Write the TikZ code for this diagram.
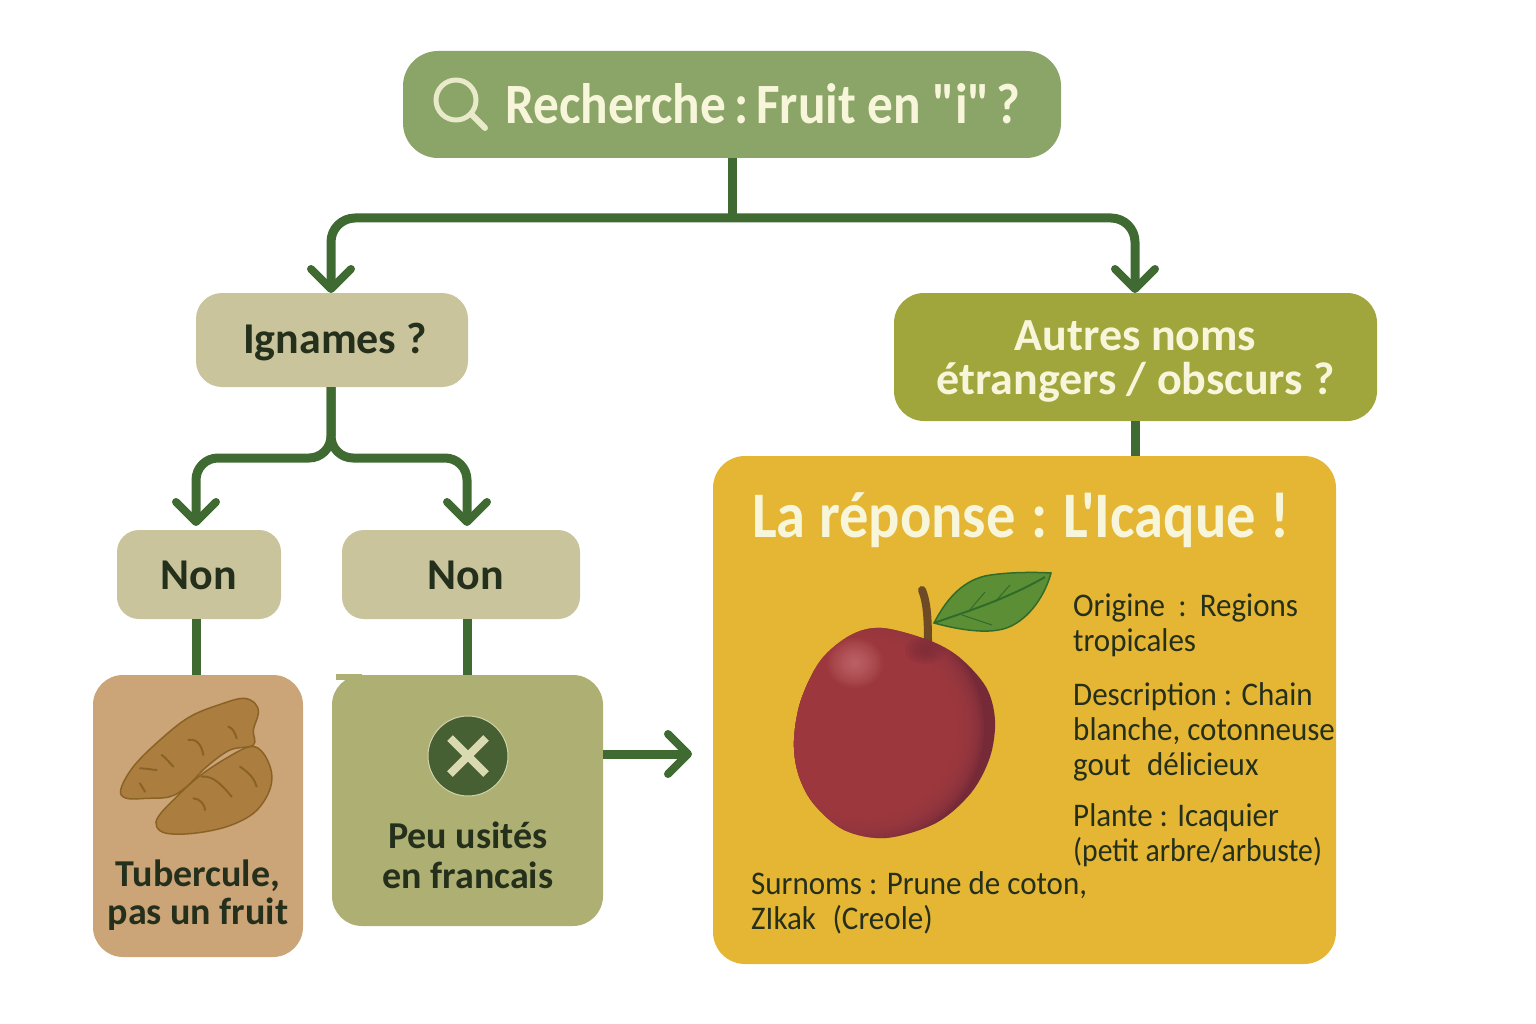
\documentclass[tikz,border=0pt]{standalone}
\usepackage{fontspec}
\setmainfont{Carlito}
\newfontfamily\headfont[FakeStretch=0.90]{Carlito}
\newfontfamily\bodyfont[FakeStretch=0.94]{Carlito}
\newfontfamily\bodytight[FakeStretch=0.90]{Carlito}
\usepackage{tikz}
\usetikzlibrary{arrows.meta}
\definecolor{TitleGreen}{HTML}{8BA568}
\definecolor{SandBox}{HTML}{C9C49B}
\definecolor{OliveBox}{HTML}{A0A53C}
\definecolor{TuberBox}{HTML}{CBA477}
\definecolor{MossBox}{HTML}{AEAF72}
\definecolor{GoldBox}{HTML}{E5B534}
\definecolor{LinkGreen}{HTML}{3F6B32}
\definecolor{DarkInk}{HTML}{25301C}
\definecolor{PaleCream}{HTML}{F8F6DA}
\definecolor{YamBody}{HTML}{AB7E40}
\definecolor{YamEdge}{HTML}{8A6226}
\definecolor{FruitMain}{HTML}{A03C42}
\definecolor{FruitDark}{HTML}{762A38}
\definecolor{LeafMain}{HTML}{5C8F35}
\definecolor{LeafEdge}{HTML}{2F6B2A}
\definecolor{StemBrown}{HTML}{6E4A25}
\tikzset{
	box/.style={rectangle, inner sep=0pt, align=center},
	link/.style={draw=LinkGreen, line width=9pt},
	tip/.style={link, -{Straight Barb[length=20pt,width=40pt,line width=8pt,round]}},
	headtext/.style={font=\headfont\bfseries\fontsize{57}{57}\selectfont, text=PaleCream},
	darktext/.style={font=\bfseries\fontsize{44}{44}\selectfont, text=DarkInk},
	labeltext/.style={font=\bfseries\fontsize{38}{38}\selectfont, text=DarkInk, inner sep=0pt, anchor=base, align=center},
	smalltext/.style={font=\bodyfont\fontsize{33}{35}\selectfont, text=DarkInk, anchor=base west, align=left, inner sep=0pt},
}
\newcommand{\yamMark}[1]{\draw [YamEdge, line width=2pt, line cap=round] #1;}
\begin{document}
\begin{tikzpicture}[x=1pt,y=-1pt]
	\useasboundingbox (0,0) rectangle (1536,1024);

	\coordinate (bus) at (732,218);
	\coordinate (colA) at (196,0);
	\coordinate (colB) at (467,0);
	\coordinate (split) at (331,458);
	\coordinate (tipL) at (331,293);
	\coordinate (tipR) at (1135,293);
	\coordinate (tipA) at (196,526);
	\coordinate (tipB) at (467,526);
	\coordinate (tipAnswer) at (692,754);

	\node [box, fill=TitleGreen, rounded corners=35pt, minimum width=658pt, minimum height=107pt, headtext, text height=38pt, text depth=0pt] (search) at (732,104.5) {\hspace{62pt}Recherche\hspace{.14em}:\hspace{.14em}Fruit en "i"\hspace{.12em}?};
	\node [box, fill=SandBox, rounded corners=26pt, minimum width=272pt, minimum height=94pt, darktext, text height=30pt, text depth=4pt] (ignames) at (332,340) {\hspace{6pt}Ignames ?};
	\node [box, fill=OliveBox, rounded corners=30pt, minimum width=483pt, minimum height=128pt, font=\bfseries\fontsize{46}{44}\selectfont, text=PaleCream] (autres) at (1135.5,357) {\rule{0pt}{38pt}Autres noms\\étrangers / obscurs ?};
	\node [box, fill=SandBox, rounded corners=22pt, minimum width=164pt, minimum height=89pt, darktext, text height=29pt, text depth=0pt] (nonA) at (199,574.5) {Non};
	\node [box, fill=SandBox, rounded corners=22pt, minimum width=238pt, minimum height=89pt, darktext, text height=29pt, text depth=0pt] (nonB) at (461,574.5) {\hspace{10pt}Non};
	\node [box, fill=TuberBox, rounded corners=30pt, minimum width=210pt, minimum height=282pt] (tuber) at (198,816) {};
	\node [box, fill=MossBox, rounded corners=30pt, minimum width=271pt, minimum height=251pt] (peu) at (467.5,800.5) {};
	\node [box, fill=GoldBox, rounded corners=32pt, minimum width=623pt, minimum height=508pt] (answer) at (1024.5,710) {};
	\fill [MossBox] (336,674) rectangle (362,680);

	\draw [link] (search.south) -- (bus);
	\draw [tip, rounded corners=24pt] (bus) -| (tipL);
	\draw [tip, rounded corners=24pt] (bus) -| (tipR);
	\draw [tip, rounded corners=22pt] (ignames.south -| split) -- (split) -| (tipA);
	\draw [tip, rounded corners=22pt] (ignames.south -| split) -- (split) -| (tipB);
	\draw [link] (nonA.south -| colA) -- (tuber.north -| colA);
	\draw [link] (nonB.south -| colB) -- (peu.north -| colB);
	\draw [link] (autres.south) -- (answer.north -| autres.south);
	\draw [tip] (peu.east |- tipAnswer) -- (tipAnswer);

	% loupe
	\draw [line width=5pt, color=PaleCream!85!TitleGreen] (456,100) circle (20pt);
	\draw [line width=6pt, line cap=round, color=PaleCream!85!TitleGreen] (471,114) -- (485,128);

	% yams
	\begin{scope}[shift={(90,670)},scale=1/3]
		\draw [fill=YamBody, draw=YamEdge, line width=1.5pt] plot [smooth cycle, tension=0.6] coordinates {(92,360) (130,290) (210,210) (300,140) (400,100) (460,85) (495,100) (505,130) (490,180) (490,225) (420,240) (350,290) (290,350) (240,380) (170,385) (110,385)};
		\draw [fill=YamBody, draw=YamEdge, line width=1.5pt] plot [smooth cycle, tension=0.6] coordinates {(200,470) (205,440) (250,390) (320,325) (400,270) (480,230) (520,250) (545,310) (535,370) (490,430) (410,470) (310,490) (230,490)};
		\yamMark{(295,210) .. controls (320,205) and (335,225) .. (340,255)}
		\yamMark{(415,170) .. controls (430,175) and (435,190) .. (440,205)}
		\yamMark{(215,255) .. controls (230,265) and (240,280) .. (250,290)}
		\yamMark{(150,295) .. controls (170,295) and (190,300) .. (200,300)}
		\yamMark{(335,320) .. controls (370,315) and (400,350) .. (425,380)}
		\yamMark{(310,385) .. controls (330,385) and (345,405) .. (345,420)}
		\yamMark{(450,290) .. controls (480,310) and (495,330) .. (500,350)}
		\yamMark{(150,340) -- (165,365)}
	\end{scope}

	% cross
	\node [circle, fill=black!30!LinkGreen!80!MossBox, draw=PaleCream!50!MossBox, line width=1pt, minimum size=80pt, inner sep=0pt] (noSign) at (468,756) {};
	\draw [color=PaleCream!60!MossBox, line width=8pt] (450,738) -- (486,774);
	\draw [color=PaleCream!60!MossBox, line width=8pt] (450,774) -- (486,738);

	% fruit
	\draw [color=StemBrown, line width=8pt, line cap=round] (922,590) .. controls (926,600) and (928,612) .. (928,642);
	\draw [fill=LeafMain, draw=LeafEdge, line width=1.5pt] (934,623) .. controls (945,602) and (960,582) .. (985,576) .. controls (1005,572) and (1035,572) .. (1051,573) .. controls (1045,595) and (1030,618) .. (1009,627) .. controls (990,635) and (960,630) .. (934,623) -- cycle;
	\draw [color=LeafEdge, line width=2pt] (934,623) .. controls (965,612) and (1005,600) .. (1045,577);
	\draw [color=LeafEdge, line width=1pt] (968,612) -- (985,592);
	\draw [color=LeafEdge, line width=1pt] (995,602) -- (1010,585);
	\draw [color=LeafEdge, line width=1pt] (962,615) -- (992,625);
	\def\fruitShape{plot [smooth cycle, tension=0.55] coordinates {(882,628) (928,640) (959,657) (986,687) (995,720) (990,757) (971,793) (936,823) (886,838) (844,830) (813,803) (798,773) (794,740) (801,700) (821,660) (851,635)}}
	\fill [FruitDark] \fruitShape;
	\begin{scope}
		\clip \fruitShape;
		\foreach \ring in {0,...,19} {
			\fill [FruitMain, opacity=0.17] (866,728) ellipse ({118-2*\ring} and {116-2*\ring});
		}
		\foreach \ring in {0,...,9} {
			\fill [red!30!white!60!FruitMain, opacity=0.08] (855,663) ellipse ({28-2.7*\ring} and {25-2.4*\ring});
		}
		\foreach \ring in {0,...,4} {
			\fill [FruitDark, opacity=0.16] (925,650) ellipse ({20-3.5*\ring} and {14-2.4*\ring});
		}
	\end{scope}

	% texts
	\node [labeltext] (tuberText) at (198,924) {Tubercule,\\pas un fruit};
	\node [labeltext, font=\bfseries\fontsize{38}{40}\selectfont] (peuText) at (468,888) {Peu usités\\en francais};
	\node [headtext, font=\headfont\bfseries\fontsize{65}{65}\selectfont, inner sep=0pt, anchor=base west] (answerTitle) at (752,537) {La réponse\hspace{.24em}:\hspace{.24em}L'Icaque\hspace{.22em}!};
	\node [smalltext] (origine) at (1073,651) {Origine\hspace{.4em}:\hspace{.4em}Regions\\tropicales};
	\node [smalltext] (description) at (1073,775) {Description : Chain\\blanche, cotonneuse\\gout\hspace{.5em}délicieux};
	\node [smalltext] (plante) at (1073,861) {Plante : Icaquier\\{\bodytight (petit arbre/arbuste)}};
	\node [smalltext] (surnoms) at (751,929) {Surnoms : Prune de coton,\\ZIkak\hspace{.5em}(Creole)};
\end{tikzpicture}
\end{document}
